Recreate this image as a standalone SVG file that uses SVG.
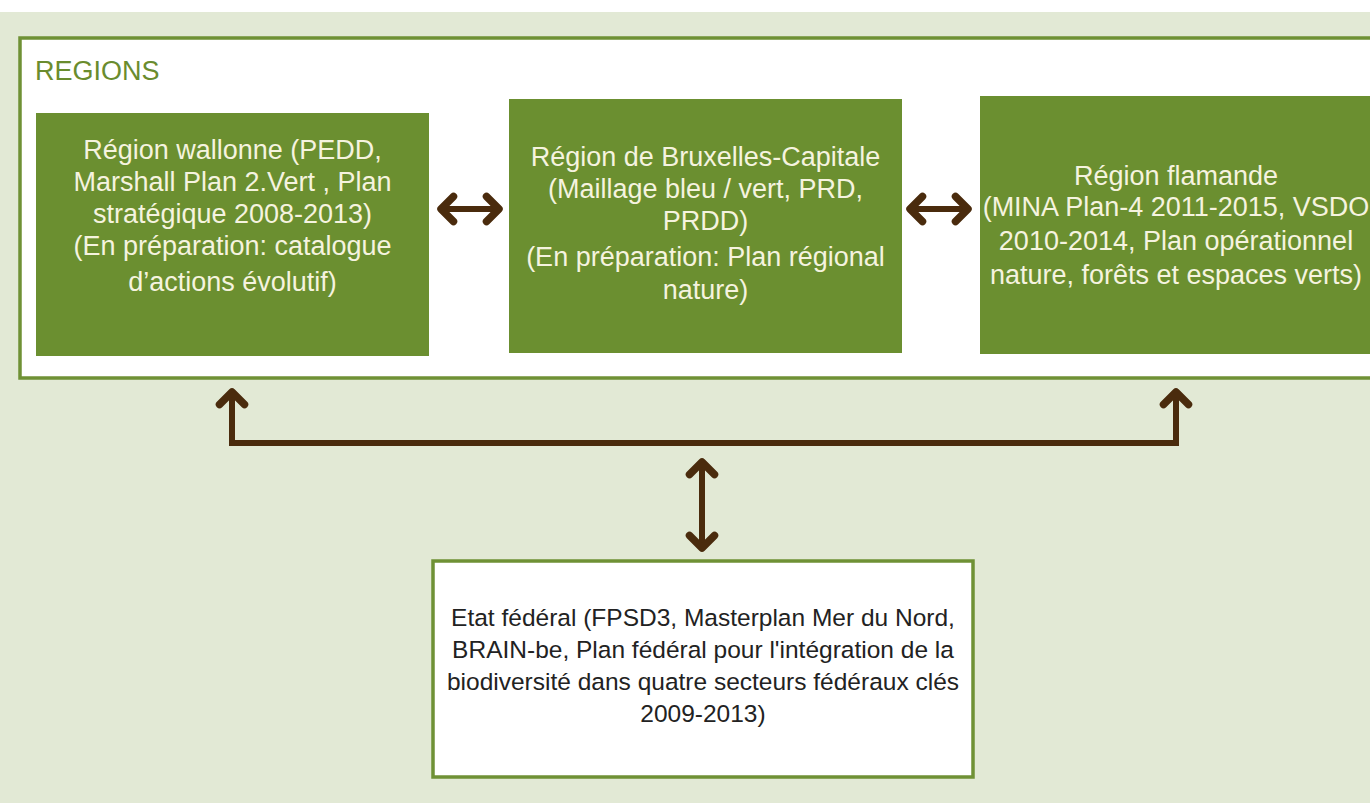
<svg xmlns="http://www.w3.org/2000/svg" width="1370" height="803" viewBox="0 0 1370 803">
  <style>
    .bg { fill: #e2e9d5; }
    .frame { fill: #ffffff; stroke: #6f9135; stroke-width: 3.5; }
    .gbox { fill: #6b8f30; }
    .wtext { font-family: "Liberation Sans", Arial, sans-serif; font-size: 27px; fill: #f5f3df; text-anchor: middle; }
    .dtext { font-family: "Liberation Sans", Arial, sans-serif; font-size: 24.5px; fill: #222222; text-anchor: middle; }
    .title { font-family: "Liberation Sans", Arial, sans-serif; font-size: 27px; fill: #6a8c2e; }
    .conn { fill: none; stroke: #4a2b0d; stroke-width: 6; }
  </style>
  <defs>
    <marker id="head" viewBox="-20 -20 40 40" refX="0" refY="0" markerWidth="40" markerHeight="40" markerUnits="userSpaceOnUse" orient="auto-start-reverse">
      <path d="M-12.5,-12.5 L0,0 L-12.5,12.5" fill="none" stroke="#4a2b0d" stroke-width="7.5" stroke-linecap="round" stroke-linejoin="round"/>
    </marker>
  </defs>

  <rect x="0" y="0" width="1370" height="803" fill="#ffffff"/>
  <rect class="bg" x="0" y="12" width="1370" height="791"/>

  <g id="regions">
    <rect class="frame" x="20" y="38" width="1400" height="340"/>
    <text class="title" x="35" y="80">REGIONS</text>
  </g>

  <g id="wallonie">
    <rect class="gbox" x="36" y="113" width="393" height="243"/>
    <text class="wtext" x="232.5" y="159">Région wallonne (PEDD,</text>
    <text class="wtext" x="232.5" y="191">Marshall Plan 2.Vert , Plan</text>
    <text class="wtext" x="232.5" y="223">stratégique 2008-2013)</text>
    <text class="wtext" x="232.5" y="255">(En préparation: catalogue</text>
    <text class="wtext" x="232.5" y="291">d’actions évolutif)</text>
  </g>

  <g id="bruxelles">
    <rect class="gbox" x="509" y="99" width="393" height="254"/>
    <text class="wtext" x="705.5" y="166">Région de Bruxelles-Capitale</text>
    <text class="wtext" x="705.5" y="198">(Maillage bleu / vert, PRD,</text>
    <text class="wtext" x="705.5" y="230">PRDD)</text>
    <text class="wtext" x="705.5" y="266">(En préparation: Plan régional</text>
    <text class="wtext" x="705.5" y="299">nature)</text>
  </g>

  <g id="flandre">
    <rect class="gbox" x="980" y="96" width="393" height="258"/>
    <text class="wtext" x="1176" y="185">Région flamande</text>
    <text class="wtext" x="1176" y="216">(MINA Plan-4 2011-2015, VSDO</text>
    <text class="wtext" x="1176" y="250">2010-2014, Plan opérationnel</text>
    <text class="wtext" x="1176" y="284">nature, forêts et espaces verts)</text>
  </g>

  <g id="federal">
    <rect x="433" y="561" width="540" height="216" fill="#ffffff" stroke="#6f9135" stroke-width="3.5"/>
    <text class="dtext" x="703" y="626">Etat fédéral (FPSD3, Masterplan Mer du Nord,</text>
    <text class="dtext" x="703" y="658">BRAIN-be, Plan fédéral pour l'intégration de la</text>
    <text class="dtext" x="703" y="690">biodiversité dans quatre secteurs fédéraux clés</text>
    <text class="dtext" x="703" y="722">2009-2013)</text>
  </g>

  <g id="connectors">
    <path class="conn" d="M441,209 L499,209" marker-start="url(#head)" marker-end="url(#head)"/>
    <path class="conn" d="M910,209 L968,209" marker-start="url(#head)" marker-end="url(#head)"/>
    <path class="conn" d="M232,392 L232,443 L1176,443 L1176,392" marker-start="url(#head)" marker-end="url(#head)" stroke-linejoin="miter"/>
    <path class="conn" d="M702,462 L702,548" marker-start="url(#head)" marker-end="url(#head)"/>
  </g>
</svg>
